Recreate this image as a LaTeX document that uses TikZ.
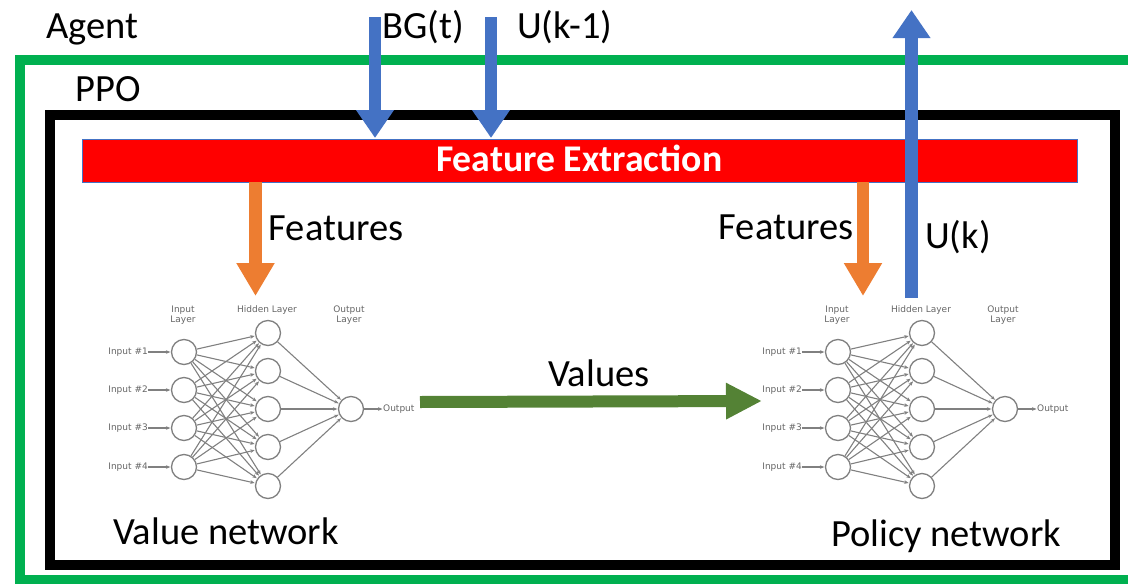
\documentclass[tikz,border=0pt]{standalone}
\usepackage{fontspec}
\setmainfont{Carlito}
\newfontfamily\nnfont{DejaVu Sans}
\usetikzlibrary{arrows.meta}
\definecolor{agentgreen}{HTML}{00B050}
\definecolor{flowblue}{HTML}{4472C4}
\definecolor{featorange}{HTML}{ED7D31}
\definecolor{valgreen}{HTML}{548235}
\definecolor{nngray}{HTML}{808080}
\tikzset{
  frame/.style={line width=10pt,miter limit=10},
  lbl/.style={font=\fontsize{38.5}{42}\selectfont,anchor=base west,inner sep=0pt,text=black},
  fatblue/.style={draw=flowblue,line width=12.5pt,-{Triangle[length=28pt,width=36pt]}},
  fatorange/.style={draw=featorange,line width=12.5pt,-{Triangle[length=33pt,width=36pt]}},
  fatgreen/.style={draw=valgreen,line width=12pt,-{Triangle[length=36pt,width=34pt]}},
  neuron/.style={circle,draw=nngray,fill=white,line width=1.3pt,minimum size=25pt,inner sep=0pt},
  syn/.style={draw=nngray,line width=1.1pt,-{Stealth[length=4.5pt,width=3.6pt]},shorten >=.5pt},
  nntext/.style={font=\nnfont\fontsize{9}{10}\selectfont,text=black!60,inner sep=0pt,align=center}
}
\newcommand{\nnet}[2]{%
  \begin{scope}[shift={(#2,0)}]
    \foreach \n/\yy in {1/352,2/390,3/428,4/467}{
      \node[neuron] (#1i\n) at (184,\yy) {};
      \node[nntext,anchor=east] (#1t\n) at (148,\yy) {Input \#\n};
      \draw[syn] (#1t\n) -- (#1i\n);
    }
    \foreach \n/\yy in {1/333,2/371,3/409,4/447,5/486}{
      \node[neuron] (#1h\n) at (268,\yy) {};
    }
    \node[neuron] (#1o) at (351,409) {};
    \node[nntext,anchor=west] (#1out) at (383,409) {Output};
    \draw[syn] (#1o) -- (#1out);
    \node[nntext] (#1li) at (183,315) {Input\\Layer};
    \node[nntext] (#1lh) at (267,310) {Hidden Layer};
    \node[nntext] (#1lo) at (349,315) {Output\\Layer};
    \foreach \a in {1,2,3,4}{\foreach \b in {1,2,3,4,5}{\draw[syn] (#1i\a) -- (#1h\b);}}
    \foreach \b in {1,2,3,4,5}{\draw[syn] (#1h\b) -- (#1o);}
  \end{scope}}
\begin{document}
\begin{tikzpicture}[x=1pt,y=-1pt]
\useasboundingbox (0,0) rectangle (1128,584);
% frames
\draw[frame,agentgreen] (1128,60) -- (19.5,60) -- (19.5,579.5) -- (1128,579.5);
\draw[frame,black] (50,115) rectangle (1115,565);
% feature extraction
\node[draw=flowblue,line width=.6pt,fill=red,minimum width=995pt,minimum height=43pt,inner sep=0pt,
      anchor=north west] (fe) at (82,139) {};
\node[text=white,font=\fontsize{37.7}{40}\selectfont\bfseries,anchor=base west,inner sep=0pt] (fet) at (436,171) {Feature Extraction};
% networks
\nnet{v}{0}
\nnet{p}{654}
% arrows
\coordinate (bgin) at (375,17);
\coordinate (bgend) at (375,138);
\coordinate (ukin) at (491,17);
\coordinate (ukend) at (491,138);
\coordinate (ukstart) at (911.5,298);
\coordinate (ukout) at (911.5,10);
\coordinate (fl) at (255.5,182);
\coordinate (flend) at (255.5,296);
\coordinate (fr) at (863,182);
\coordinate (frend) at (863,296);
\coordinate (vs) at (420,402);
\coordinate (ve) at (762,401);
\draw[fatblue] (bgin) -- (bgend);
\draw[fatblue] (ukin) -- (ukend);
\draw[fatblue] (ukstart) -- (ukout);
\draw[fatorange] (fl) -- (flend);
\draw[fatorange] (fr) -- (frend);
\draw[fatgreen] (vs) -- (ve);
% labels
\node[lbl] (agent) at (46,38) {Agent};
\node[lbl] (ppo) at (75,101) {PPO};
\node[lbl] (bg) at (382,38) {BG(t)};
\node[lbl] (uk1) at (517,38) {U(k-1)};
\node[lbl] (f1) at (268.5,240) {Features};
\node[lbl] (f2) at (718.5,239) {Features};
\node[lbl] (uk) at (925,248) {U(k)};
\node[lbl] (val) at (548,386) {Values};
\node[lbl] (vn) at (113,544) {Value network};
\node[lbl] (pn) at (831,546) {Policy network};
\end{tikzpicture}
\end{document}
